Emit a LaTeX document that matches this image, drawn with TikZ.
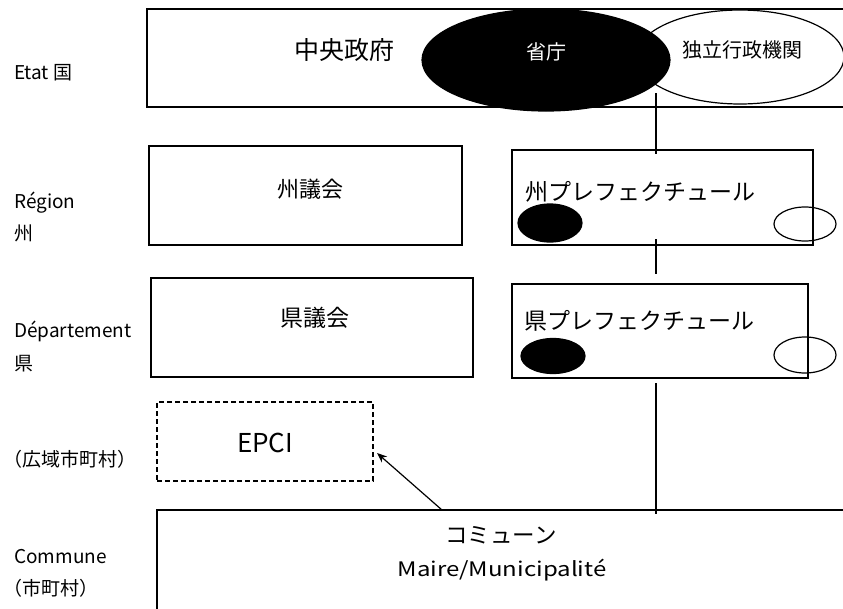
\documentclass[tikz,border=0pt]{standalone}
\usepackage{fontspec}
\setmainfont{Noto Sans CJK JP}
\usetikzlibrary{shapes.geometric,arrows.meta}
\begin{document}
\begin{tikzpicture}[x=1pt,y=-1pt,
  box/.style={draw,line width=1.2pt,rectangle,inner sep=0pt},
  dbox/.style={box,dash pattern=on 5pt off 3pt},
  lbl/.style={anchor=base west,inner sep=0pt,font=\fontsize{19}{22}\selectfont},
  txt/.style={inner sep=0pt},
  bell/.style={ellipse,draw,line width=1.2pt,fill=black,inner sep=0pt},
  well/.style={ellipse,draw,line width=1.2pt,inner sep=0pt},
  conn/.style={line width=1.2pt}]
\useasboundingbox (0,0) rectangle (843,608);
\fill[white] (0,0) rectangle (843,608);

% left labels
\node[lbl] (l1) at (14,79) {Etat 国};
\node[lbl] (l2) at (14,208) {Région};
\node[lbl] (l3) at (14,240) {州};
\node[lbl] (l4) at (14,337) {Département};
\node[lbl] (l5) at (14,370) {県};
\node[lbl] (l6) at (3,466) {（広域市町村）};
\node[lbl] (l7) at (14,563) {Commune};
\node[lbl] (l8) at (3,595) {（市町村）};

% boxes
\node[box,minimum width=703pt,minimum height=98pt] (state) at (498.5,58) {};
\node[box,minimum width=313pt,minimum height=99pt] (regc) at (305.5,195.5) {};
\node[box,minimum width=301pt,minimum height=95pt] (regp) at (662.5,197.5) {};
\node[box,minimum width=322pt,minimum height=99pt] (depc) at (312,327.5) {};
\node[box,minimum width=296pt,minimum height=94pt] (depp) at (660,331) {};
\node[dbox,minimum width=216pt,minimum height=79pt] (epci) at (265,441.5) {};
\node[box,minimum width=693pt,minimum height=130pt] (comm) at (503.5,575) {};

% ellipses in top box
\node[well,minimum width=208pt,minimum height=94pt] (dokuritsu) at (740,57) {};
\node[bell,minimum width=248pt,minimum height=102pt] (shocho) at (546,60) {};

% small ellipses
\node[bell,minimum width=64pt,minimum height=38pt] (b1) at (550,223) {};
\node[well,minimum width=62pt,minimum height=34pt] (w1) at (805,224) {};
\node[bell,minimum width=64pt,minimum height=35pt] (b2) at (553,356) {};
\node[well,minimum width=62pt,minimum height=36pt] (w2) at (805,355) {};

% texts
\node[txt,font=\fontsize{25}{30}\selectfont] (t1) at (344,50) {中央政府};
\node[txt,text=white,font=\fontsize{20}{24}\selectfont] (t2) at (546,52) {省庁};
\node[txt,font=\fontsize{20}{24}\selectfont] (t3) at (742,50) {独立行政機関};
\node[txt,font=\fontsize{22}{26}\selectfont] (t4) at (310,189) {州議会};
\node[txt,anchor=west,font=\fontsize{23}{27}\selectfont] (t5) at (525,191.5) {州プレフェクチュール};
\node[txt,font=\fontsize{23}{27}\selectfont] (t6) at (315,318) {県議会};
\node[txt,anchor=west,font=\fontsize{23}{27}\selectfont] (t7) at (524,321) {県プレフェクチュール};
\node[txt,anchor=base,font=\fontsize{26}{30}\selectfont] (t8) at (265,452) {EPCI};
\node[txt,font=\fontsize{22.5}{27}\selectfont] (t9) at (501,535) {コミューン};
\node[txt,anchor=base,font=\fontsize{20}{24}\selectfont] (t10) at (502,576) {\scalebox{1.2}[1]{Maire/Municipalité}};

% connectors
\coordinate (c1a) at (656,93);
\coordinate (c1b) at (656,154);
\coordinate (c2a) at (656,239);
\coordinate (c2b) at (656,274);
\coordinate (c3a) at (656,383);
\coordinate (c3b) at (656,514);
\coordinate (c4a) at (442,510);
\coordinate (c4b) at (377,453);
\draw[conn] (c1a) -- (c1b);
\draw[conn] (c2a) -- (c2b);
\draw[conn] (c3a) -- (c3b);
\draw[conn,-{Stealth[length=10pt,width=8pt]}] (c4a) -- (c4b);
\end{tikzpicture}
\end{document}
